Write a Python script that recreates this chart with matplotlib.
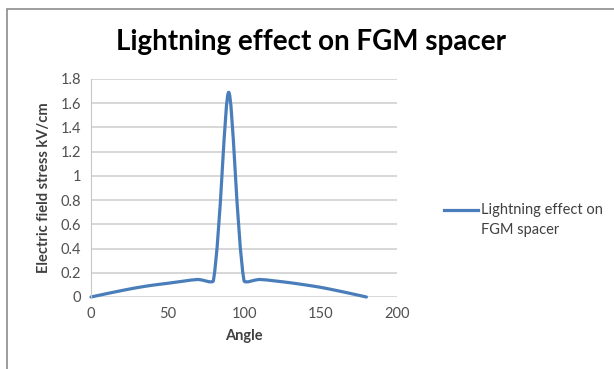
import matplotlib.pyplot as plt
import numpy as np
from matplotlib.path import Path
from matplotlib.patches import PathPatch, Rectangle
from matplotlib.lines import Line2D

# field stress along the spacer surface
angle = [0, 10, 20, 30, 40, 50, 60, 70, 80, 90, 100, 110, 120, 130, 140, 150, 160, 170, 180]
stress = [0.0, 0.027, 0.053, 0.077, 0.097, 0.113, 0.13, 0.145, 0.135, 1.69, 0.135, 0.145, 0.133,
          0.118, 0.1, 0.08, 0.055, 0.028, 0.0]
xticks = [0, 50, 100, 150, 200]
yticks = [0, 0.2, 0.4, 0.6, 0.8, 1, 1.2, 1.4, 1.6, 1.8]
ytick_labels = ['0', '0.2', '0.4', '0.6', '0.8', '1', '1.2', '1.4', '1.6', '1.8']

blue = '#4a7ebb'
txt = '#404040'
plt.rcParams['font.family'] = ['Lato', 'DejaVu Sans']

fig = plt.figure(figsize=(6.14, 3.69), dpi=100)
# outer chart border (only top and left edges are in view)
fig.patches.append(Rectangle((7 / 614, -0.1), 1.2, (1 - 9 / 369) + 0.1, transform=fig.transFigure,
                             fill=False, edgecolor='#8c8c8c', linewidth=1.2))

ax = fig.add_axes([91 / 614, 1 - 297 / 369, 306 / 614, 218 / 369])
ax.set_xlim(0, 200)
ax.set_ylim(0, 1.8)
ax.set_xticks(xticks)
ax.set_yticks(yticks)
ax.set_yticklabels(ytick_labels)
ax.tick_params(length=0, labelsize=10.5, colors='#505050', pad=7)
ax.grid(axis='y', color='#d4d4d4', linewidth=1.3)
ax.set_axisbelow(True)
for s in ['top', 'right', 'bottom']:
    ax.spines[s].set_visible(False)
ax.spines['left'].set_color('#c8c8c8')

# smoothed line: cubic bezier segments, tangents scaled by neighbouring segment lengths
pts = np.column_stack([angle, stress]).astype(float)
disp = ax.transData.transform(pts)
n = len(pts)
t = 0.5
verts = [tuple(pts[0])]
codes = [Path.MOVETO]
def ctrl(i):
    if i == 0 or i == n - 1:
        return disp[i], disp[i]
    d = disp[i + 1] - disp[i - 1]
    l1 = np.hypot(*(disp[i] - disp[i - 1]))
    l2 = np.hypot(*(disp[i + 1] - disp[i]))
    return disp[i] - d * t * l1 / (l1 + l2) * 0.5, disp[i] + d * t * l2 / (l1 + l2) * 0.5
inv = ax.transData.inverted()
for i in range(n - 1):
    c1 = ctrl(i)[1]
    c2 = ctrl(i + 1)[0]
    for p in (c1, c2, disp[i + 1]):
        verts.append(tuple(inv.transform(p)))
    codes += [Path.CURVE4] * 3
ax.add_patch(PathPatch(Path(verts, codes), fill=False, edgecolor=blue, linewidth=2.3,
                       capstyle='round', joinstyle='round', clip_on=False))

ax.set_xlabel('Angle', fontsize=10.5, fontweight='bold', color=txt, labelpad=6)
ax.set_ylabel('Electric field stress kV/cm', fontsize=10.5, fontweight='bold', color=txt, labelpad=7)
fig.text(0.506, 1 - 42 / 369, 'Lightning effect on FGM spacer', ha='center', va='center',
         fontsize=20, fontweight='bold', color='black')

handle = Line2D([], [], color=blue, linewidth=2.3)
leg = fig.legend([handle], ['Lightning effect on\nFGM spacer'], loc='center left',
                 bbox_to_anchor=(431 / 614, 1 - 220 / 369), frameon=False, fontsize=10.5,
                 labelcolor=txt, handlelength=2.3, handletextpad=0.2)
for tx in leg.get_texts():
    tx.set_linespacing(1.5)
# keep the legend line level with the first text line
lg = leg.get_lines()[0]
lg.set_ydata(np.asarray(lg.get_ydata()) + 7.5)

fig.savefig('out.png', dpi=100)
